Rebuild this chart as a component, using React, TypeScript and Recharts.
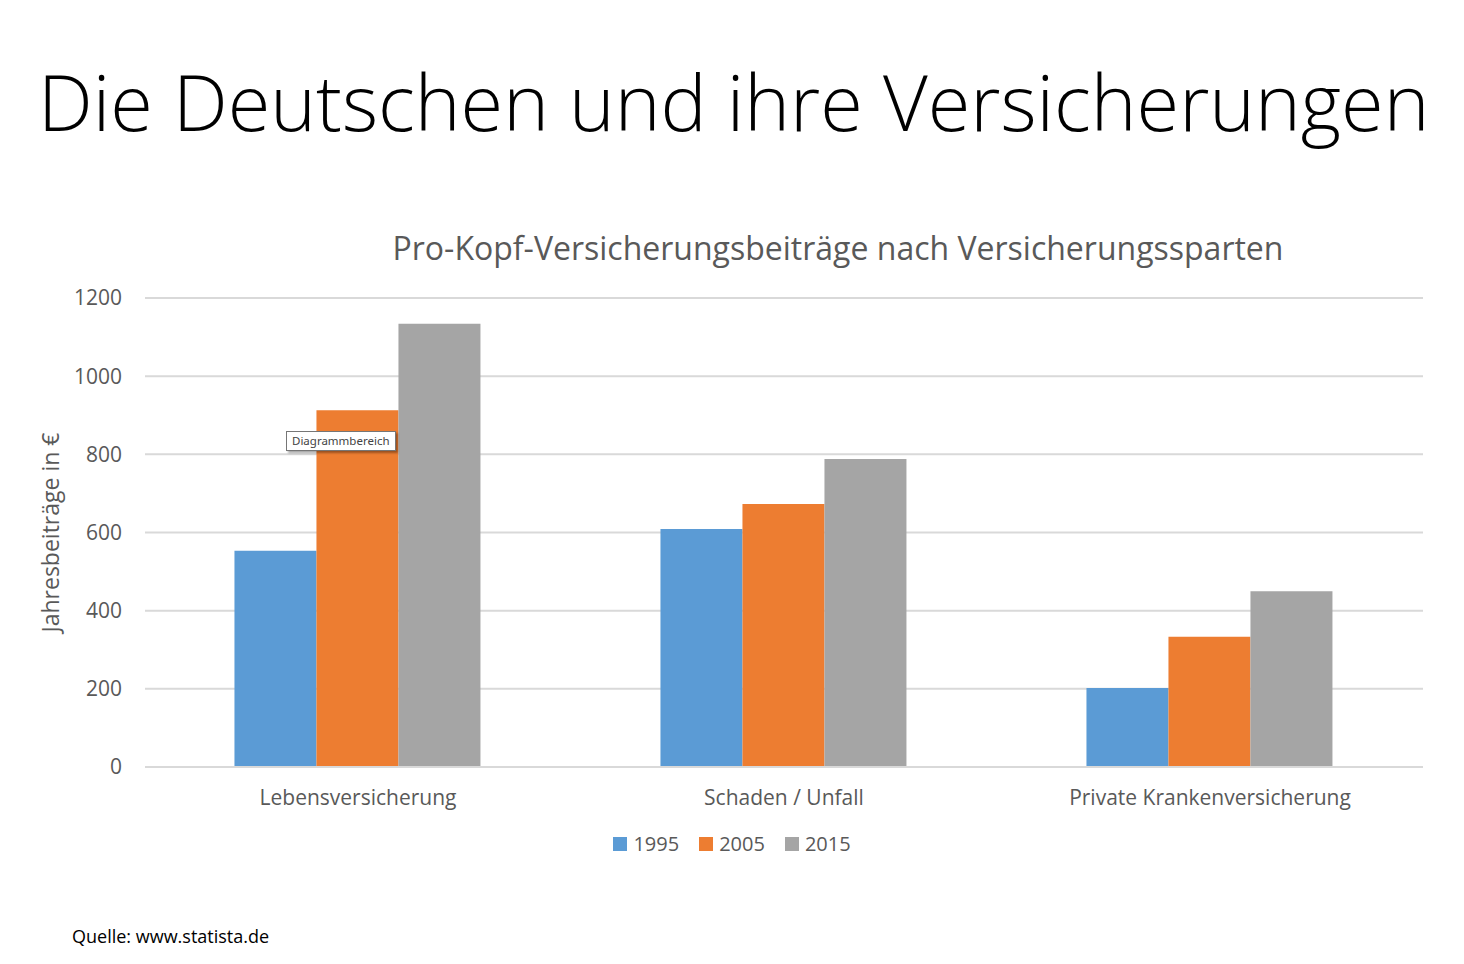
import { Bar, BarChart, CartesianGrid, Legend, XAxis, YAxis } from "recharts";

const CATEGORIES = ["Lebensversicherung", "Schaden / Unfall", "Private Krankenversicherung"];
const Y1995 = [553, 609, 202];
const Y2005 = [913, 673, 333];
const Y2015 = [1134, 788, 450];
const Y_TICKS = [0, 200, 400, 600, 800, 1000, 1200];

const data = CATEGORIES.map((name, i) => ({
  name,
  y1995: Y1995[i],
  y2005: Y2005[i],
  y2015: Y2015[i],
}));

const FONT = "'Open Sans', 'Noto Sans', sans-serif";
const GREY = "#595959";

function LegendBox(props: any) {
  const items = props.payload || [];
  return (
    <div style={{ display: "flex", justifyContent: "center", gap: 20, paddingLeft: 0 }}>
      {items.map((it: any) => (
        <div key={it.value} style={{ display: "flex", alignItems: "center", gap: 6 }}>
          <span style={{ width: 14, height: 14, background: it.color, display: "inline-block" }} />
          <span style={{ color: GREY, fontSize: 20, fontFamily: FONT, lineHeight: "28px" }}>
            {it.value}
          </span>
        </div>
      ))}
    </div>
  );
}

export default function App() {
  return (
    <div
      style={{
        position: "absolute",
        left: 0,
        top: 0,
        width: 1464,
        height: 964,
        background: "#fff",
        fontFamily: FONT,
        overflow: "hidden",
      }}
    >
      <div
        style={{
          position: "absolute",
          left: 38,
          top: 52,
          fontSize: 77.5,
          lineHeight: "98px",
          color: "#000",
          whiteSpace: "nowrap",
          fontWeight: 300,
        }}
      >
        Die Deutschen und ihre Versicherungen
      </div>
      <div
        style={{
          position: "absolute",
          left: 0,
          width: 1676,
          top: 227,
          textAlign: "center",
          fontSize: 32,
          lineHeight: "42px",
          color: GREY,
          whiteSpace: "nowrap",
        }}
      >
        Pro-Kopf-Versicherungsbeiträge nach Versicherungssparten
      </div>
      <div style={{ position: "absolute", left: 0, top: 0 }}>
        <BarChart
          width={1464}
          height={964}
          data={data}
          margin={{ top: 270, right: 41, left: 65, bottom: 157 }}
          barCategoryGap="21%"
          barGap={0}
        >
          <CartesianGrid vertical={false} stroke="#d9d9d9" strokeWidth={2} />
          <XAxis
            dataKey="name"
            tickLine={false}
            axisLine={{ stroke: "#d9d9d9", strokeWidth: 2 }}
            tickMargin={17}
            tick={{ fontSize: 21, fill: GREY, fontFamily: FONT }}
            height={40}
          />
          <YAxis
            width={80}
            domain={[0, 1200]}
            ticks={Y_TICKS}
            tickLine={false}
            axisLine={false}
            tickMargin={17}
            tick={{ fontSize: 21, fill: GREY, fontFamily: FONT }}
            label={{
              value: "Jahresbeiträge in €",
              angle: -90,
              position: "insideLeft",
              offset: -14,
              style: { fontSize: 23, fill: GREY, fontFamily: FONT, textAnchor: "middle" },
            }}
          />
          <Legend
            verticalAlign="top"
            content={LegendBox}
            wrapperStyle={{ position: "absolute", top: 830, left: 0, width: 1464, height: 28 }}
          />
          <Bar dataKey="y1995" name="1995" fill="#5B9BD5" isAnimationActive={false} />
          <Bar dataKey="y2005" name="2005" fill="#ED7D31" isAnimationActive={false} />
          <Bar dataKey="y2015" name="2015" fill="#A5A5A5" isAnimationActive={false} />
        </BarChart>
      </div>
      <div
        style={{
          position: "absolute",
          left: 286,
          top: 431,
          height: 18,
          padding: "0 5px",
          border: "1px solid #767676",
          background: "#fff",
          fontSize: 11.5,
          lineHeight: "18px",
          color: "#444",
          boxShadow: "2px 2px 2px rgba(0,0,0,0.35)",
          fontFamily: "'Noto Sans', sans-serif",
        }}
      >
        Diagrammbereich
      </div>
      <div
        style={{
          position: "absolute",
          left: 72,
          top: 924,
          fontSize: 18,
          lineHeight: "24px",
          color: "#000",
        }}
      >
        Quelle: www.statista.de
      </div>
    </div>
  );
}
